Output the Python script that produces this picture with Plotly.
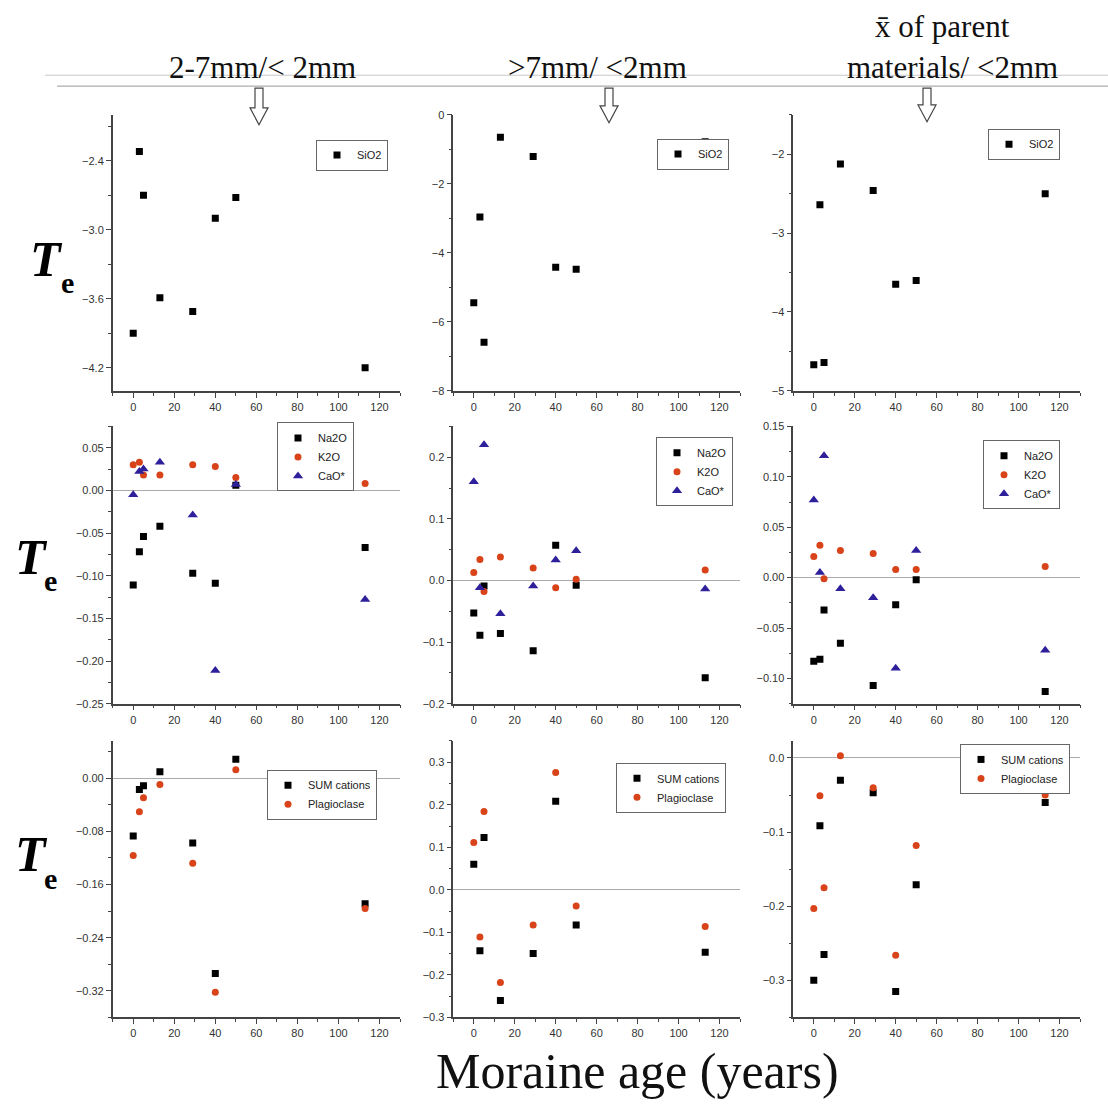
import plotly.graph_objects as go

W, H = 1108, 1107

ages = [0, 3, 5, 13, 29, 40, 50, 113]

# Row 1: SiO2
sio2_2_7mm = [-3.90, -2.32, -2.70, -3.59, -3.71, -2.90, -2.72, -4.20]
sio2_gt7mm = [-5.45, -2.96, -6.59, -0.65, -1.21, -4.42, -4.48, -0.78]
sio2_parent = [-4.67, -2.64, -4.64, -2.125, -2.46, -3.65, -3.60, -2.50]

# Row 2: Na2O, K2O, CaO*
na2o_2_7mm = [-0.111, -0.072, -0.054, -0.042, -0.097, -0.109, 0.006, -0.067]
k2o_2_7mm = [0.030, 0.033, 0.018, 0.018, 0.030, 0.028, 0.015, 0.008]
cao_2_7mm = [-0.005, 0.022, 0.025, 0.033, -0.029, -0.211, 0.007, -0.128]

na2o_gt7mm = [-0.053, -0.089, -0.009, -0.086, -0.114, 0.057, -0.008, -0.158]
k2o_gt7mm = [0.013, 0.034, -0.018, 0.038, 0.020, -0.012, 0.002, 0.017]
cao_gt7mm = [0.160, -0.012, 0.220, -0.054, -0.009, 0.033, 0.048, -0.014]

na2o_parent = [-0.083, -0.081, -0.032, -0.065, -0.107, -0.027, -0.002, -0.113]
k2o_parent = [0.021, 0.032, -0.001, 0.027, 0.024, 0.008, 0.008, 0.011]
cao_parent = [0.077, 0.005, 0.121, -0.011, -0.020, -0.090, 0.027, -0.072]

# Row 3: SUM cations, Plagioclase
sum_2_7mm = [-0.087, -0.017, -0.0115, 0.0095, -0.0975, -0.294, 0.0285, -0.189]
plag_2_7mm = [-0.1165, -0.0505, -0.0295, -0.0095, -0.128, -0.322, 0.0125, -0.196]

sum_gt7mm = [0.060, -0.143, 0.123, -0.260, -0.150, 0.208, -0.083, -0.147]
plag_gt7mm = [0.111, -0.111, 0.184, -0.218, -0.083, 0.276, -0.038, -0.086]

sum_parent = [-0.300, -0.0915, -0.265, -0.030, -0.047, -0.315, -0.171, -0.060]
plag_parent = [-0.203, -0.051, -0.175, 0.003, -0.040, -0.266, -0.118, -0.050]

col_titles = ["2-7mm/< 2mm", ">7mm/ <2mm", "materials/ <2mm"]
col_title_extra = "x\u0304 of parent"
x_title = "Moraine age (years)"

BLACK = "#000000"
RED = "#d8431a"
BLUE = "#2e1f9a"

sq = dict(symbol="square", color=BLACK, size=7)
ci = dict(symbol="circle", color=RED, size=7)
tr = dict(symbol="triangle-up", color=BLUE, size=9)

# panel definitions: (row, col, series, yrange, tick0, dtick, fmt, legend(x_px, y_px))
panels = [
    (0, 0, [("SiO2", sio2_2_7mm, sq)], [-4.4, -2.0], -2.4, 0.6, ".1f", (316, 135)),
    (0, 1, [("SiO2", sio2_gt7mm, sq)], [-8, 0], 0, 2, "d", (657, 134)),
    (0, 2, [("SiO2", sio2_parent, sq)], [-5, -1.5], -2, 1, "d", (988, 124)),
    (1, 0, [("Na2O", na2o_2_7mm, sq), ("K2O", k2o_2_7mm, ci), ("CaO*", cao_2_7mm, tr)],
     [-0.25, 0.075], 0, 0.05, ".2f", (277, 421)),
    (1, 1, [("Na2O", na2o_gt7mm, sq), ("K2O", k2o_gt7mm, ci), ("CaO*", cao_gt7mm, tr)],
     [-0.2, 0.25], 0, 0.1, ".1f", (656, 436)),
    (1, 2, [("Na2O", na2o_parent, sq), ("K2O", k2o_parent, ci), ("CaO*", cao_parent, tr)],
     [-0.125, 0.15], 0, 0.05, ".2f", (983, 439)),
    (2, 0, [("SUM cations", sum_2_7mm, sq), ("Plagioclase", plag_2_7mm, ci)],
     [-0.36, 0.056], 0, 0.08, ".2f", (267, 772)),
    (2, 1, [("SUM cations", sum_gt7mm, sq), ("Plagioclase", plag_gt7mm, ci)],
     [-0.3, 0.35], 0, 0.1, ".1f", (616, 765)),
    (2, 2, [("SUM cations", sum_parent, sq), ("Plagioclase", plag_parent, ci)],
     [-0.35, 0.023], 0, 0.1, ".1f", (960, 746)),
]

col_px = [(112.7, 400.0), (453.3, 740.0), (793.3, 1080.0)]
row_px = [(110.0, 389.0), (425.0, 705.3), (743.0, 1022.5)]


def px(x):
    return x / W


def py(y):
    return 1 - y / H


fig = go.Figure()
layout = dict(
    width=W, height=H, margin=dict(l=0, r=0, t=0, b=0),
    paper_bgcolor="white", plot_bgcolor="white",
    font=dict(family="Arial, Liberation Sans, sans-serif", color="#333"),
)

tickfont = dict(family="Arial, Liberation Sans, sans-serif", size=11, color="#333")

for i, (r, c, series, yr, t0, dt, fmt, lpos) in enumerate(panels):
    n = i + 1
    xa = "xaxis" if n == 1 else f"xaxis{n}"
    ya = "yaxis" if n == 1 else f"yaxis{n}"
    xr = "x" if n == 1 else f"x{n}"
    yrf = "y" if n == 1 else f"y{n}"
    lg = "legend" if n == 1 else f"legend{n}"
    for name, vals, mk in series:
        fig.add_trace(go.Scatter(
            x=ages, y=vals, mode="markers", name=name,
            marker=dict(symbol=mk["symbol"], color=mk["color"], size=mk["size"],
                        line=dict(width=0)),
            xaxis=xr, yaxis=yrf, legend=lg, showlegend=True,
        ))
    x0, x1 = col_px[c]
    y0, y1 = row_px[r]
    layout[xa] = dict(
        domain=[px(x0), px(x1)], range=[-10, 130], anchor=yrf,
        tick0=0, dtick=20, showgrid=False, zeroline=False,
        showline=True, linecolor="#444", linewidth=1.5,
        ticks="outside", ticklen=5, tickwidth=1.2, tickcolor="#444",
        minor=dict(ticks="outside", ticklen=3, dtick=10, tick0=0, tickcolor="#444", showgrid=False),
        tickfont=tickfont,
    )
    layout[ya] = dict(
        domain=[py(y1), py(y0)], range=yr, anchor=xr,
        tick0=t0, dtick=dt, tickformat=fmt, showgrid=False,
        zeroline=(r > 0), zerolinecolor="#aaa", zerolinewidth=1.2,
        showline=True, linecolor="#444", linewidth=1.5,
        ticks="outside", ticklen=5, tickwidth=1.2, tickcolor="#444",
        minor=dict(ticks="outside", ticklen=3, dtick=dt / 2, tick0=t0, tickcolor="#444", showgrid=False),
        tickfont=tickfont,
    )
    layout[lg] = dict(
        x=px(lpos[0]), y=py(lpos[1]), xanchor="left", yanchor="top",
        bgcolor="white", bordercolor="#666", borderwidth=1,
        font=dict(family="Arial, Liberation Sans, sans-serif", size=11, color="#222"),
        itemwidth=30, tracegroupgap=0,
    )

fig.update_layout(**layout)

serif = "Times New Roman, Liberation Serif, serif"
annotations = []
# column headers
for cx, txt in zip([262, 597, 952], col_titles):
    annotations.append(dict(x=px(cx), y=py(62), xref="paper", yref="paper", text=txt,
                            showarrow=False, xanchor="center", yanchor="middle",
                            font=dict(family=serif, size=31, color="#111")))
annotations.append(dict(x=px(942), y=py(21), xref="paper", yref="paper", text=col_title_extra,
                        showarrow=False, xanchor="center", yanchor="middle",
                        font=dict(family=serif, size=31, color="#111")))
# T_e labels
for (tx, ty, ex, ey) in [(46, 256, 67, 280), (31, 557, 50, 581), (31, 857, 50, 882)]:
    annotations.append(dict(x=px(tx), y=py(ty), xref="paper", yref="paper",
                            text="<b><i>T</i></b>", showarrow=False,
                            xanchor="center", yanchor="middle",
                            font=dict(family=serif, size=50, color="#000")))
    annotations.append(dict(x=px(ex), y=py(ey), xref="paper", yref="paper",
                            text="<b>e</b>", showarrow=False,
                            xanchor="center", yanchor="middle",
                            font=dict(family=serif, size=30, color="#000")))
# x title
annotations.append(dict(x=px(637), y=py(1077), xref="paper", yref="paper", text=x_title,
                        showarrow=False, xanchor="center", yanchor="middle",
                        font=dict(family=serif, size=50, color="#111")))

shapes = []
shapes.append(dict(type="line", xref="paper", yref="paper", x0=px(45), x1=1, y0=py(70), y1=py(70),
                   line=dict(color="#c8c8c8", width=1)))
shapes.append(dict(type="line", xref="paper", yref="paper", x0=px(57), x1=1, y0=py(81), y1=py(81),
                   line=dict(color="#999", width=1)))
for cx, tip in [(259, 120), (609, 118), (927, 117)]:
    pts = [(cx - 4, 83), (cx + 4, 83), (cx + 4, tip - 17), (cx + 9, tip - 17), (cx, tip),
           (cx - 9, tip - 17), (cx - 4, tip - 17)]
    path = "M " + " L ".join(f"{px(a):.5f},{py(b):.5f}" for a, b in pts) + " Z"
    shapes.append(dict(type="path", xref="paper", yref="paper", path=path,
                       line=dict(color="#444", width=1.2), fillcolor="white"))

fig.update_layout(annotations=annotations, shapes=shapes)

fig.write_html("out.html")
